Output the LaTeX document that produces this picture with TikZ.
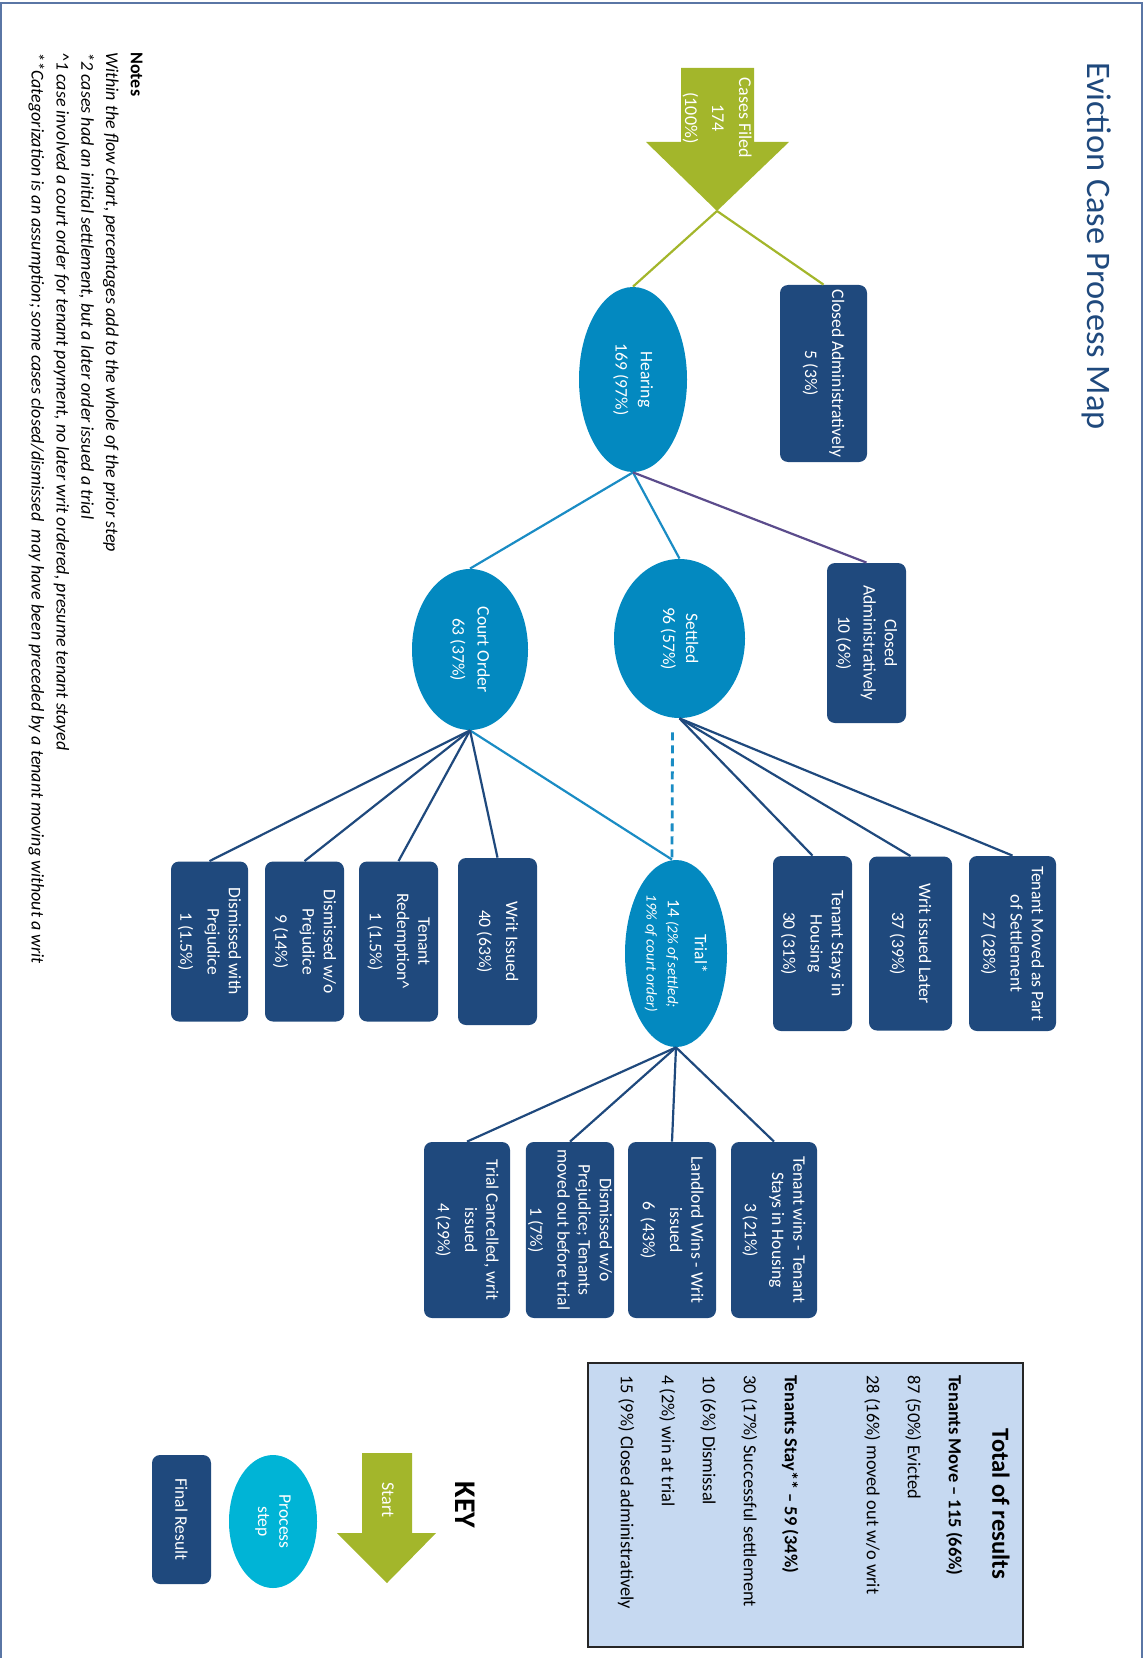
\documentclass[tikz,border=0pt]{standalone}
\usepackage{fontspec}
\setmainfont{Carlito}
\usetikzlibrary{positioning,shapes.geometric}
\definecolor{navy}{RGB}{31,73,125}
\definecolor{procblue}{RGB}{3,137,192}
\definecolor{keycyan}{RGB}{0,180,214}
\definecolor{startgreen}{RGB}{163,182,43}
\definecolor{lineblue}{RGB}{26,140,196}
\definecolor{purpleline}{RGB}{91,76,140}
\definecolor{totfill}{RGB}{198,217,241}
\definecolor{framecol}{RGB}{90,118,165}
\newcommand{\trialit}{\fontsize{7.5}{9}\selectfont\itshape}
\tikzset{
  finalbox/.style={rectangle, rounded corners=4pt, fill=navy, text=white,
    align=center, inner sep=1pt, font=\fontsize{8.8}{10.6}\selectfont,
    minimum width=88pt, minimum height=43pt},
  procstep/.style={ellipse, fill=procblue, text=white, align=center,
    inner sep=0pt, font=\fontsize{8.8}{10.6}\selectfont},
  starttext/.style={text=white, align=center, inner sep=0pt,
    font=\fontsize{9}{13.5}\selectfont},
  gline/.style={draw=startgreen, line width=1.1pt},
  bline/.style={draw=lineblue, line width=1.1pt},
  pline/.style={draw=purpleline, line width=1.1pt},
  nline/.style={draw=navy, line width=1.1pt},
  dline/.style={draw=lineblue, line width=1.4pt, dash pattern=on 4pt off 2.5pt}
}

\begin{document}
\begin{tikzpicture}[x=0.5pt, y=0.5pt]
\begin{scope}[rotate=-90, transform shape]
\useasboundingbox (0,0) rectangle (1658,1144);
\draw[framecol, line width=0.8pt] (1658,1) -- (3,1) -- (3,1142) -- (1658,1142);

\node[text=navy, inner sep=0pt, font=\fontsize{17.2}{20}\selectfont] (maptitle) at (246,1097) {Eviction Case Process Map};

% start
\fill[startgreen] (68,681) -- (142,681) -- (142,646) -- (211,717) -- (142,789) -- (142,754) -- (68,754) -- cycle;
\coordinate (filedtip) at (211,717);
\node[starttext] (filed) at (118,717) {Cases Filed\\174\\(100\%)};

% hearing level
\node[procstep, minimum width=92.5pt, minimum height=54pt] (hearing) at (379.5,633) {Hearing\\[2pt]169 (97\%)};
\node[finalbox, minimum width=88.5pt, minimum height=43.5pt] (cadm1) at (373.5,823.5) {Closed Administratively\\[3pt]5 (3\%)};

\node[procstep, minimum width=79.5pt, minimum height=65.5pt] (settled) at (638.5,679.5) {Settled\\[1pt]96 (57\%)};
\node[procstep, minimum width=80.5pt, minimum height=58pt] (court) at (649.5,470) {Court Order\\[2pt]63 (37\%)};
\node[finalbox, minimum width=80pt, minimum height=39.5pt] (cadm2) at (643,866.5) {Closed\\Administratively\\[2pt]10 (6\%)};

% settled results
\node[finalbox, minimum width=87.5pt, minimum height=43.5pt] (moved) at (943.5,1012.5) {Tenant Moved as Part\\of Settlement\\[3pt]27 (28\%)};
\node[finalbox, on grid, below=51pt of moved, minimum width=87pt, minimum height=41.5pt] (writlater) {Writ issued Later\\[3pt]37 (39\%)};
\node[finalbox, on grid, below=49pt of writlater, minimum width=87.5pt, minimum height=39.5pt] (stays) {Tenant Stays in\\Housing\\[3pt]30 (31\%)};

% court order results
\node[finalbox, minimum width=83.5pt, minimum height=39.5pt] (writ) at (941.5,497.5) {Writ Issued\\[3pt]40 (63\%)};
\node[finalbox, on grid, below=49.5pt of writ, minimum width=80pt, minimum height=39.5pt] (redemp) {Tenant\\Redemption\textasciicircum\\[3pt]1 (1.5\%)};
\node[finalbox, on grid, below=47pt of redemp, minimum width=80pt, minimum height=39.5pt] (dwo) {Dismissed w/o\\Prejudice\\[3pt]9 (14\%)};
\node[finalbox, on grid, below=47.5pt of dwo, minimum width=80pt, minimum height=38.5pt] (dwith) {Dismissed with\\Prejudice\\[3pt]1 (1.5\%)};

% trial
\node[procstep, minimum width=93.5pt, minimum height=51pt] (trial) at (953.5,676) {Trial*\\[3pt]14 {\trialit (2\% of settled;}\\{\trialit 19\% of court order)}};
\node[finalbox, minimum height=43pt] (twins) at (1230,774) {Tenant wins - Tenant\\Stays in Housing\\[3pt]3 (21\%)};
\node[finalbox, on grid, below=51pt of twins, minimum height=44pt] (lwins) {Landlord Wins - Writ\\issued\\[3pt]6\ \ (43\%)};
\node[finalbox, on grid, below=51pt of lwins, minimum height=43.5pt] (dprej) {Dismissed w/o\\Prejudice; Tenants\\moved out before trial\\[3pt]1 (7\%)};
\node[finalbox, on grid, below=51.5pt of dprej] (tcanc) {Trial Cancelled, writ\\issued\\[3pt]4 (29\%)};

% connectors
\draw[gline] (filedtip) -- (hearing.west);
\draw[gline] (filedtip) -- (cadm1.west);
\draw[bline] (hearing.east) -- (court.west);
\draw[bline] (hearing.east) -- (settled.west);
\draw[pline] (hearing.east) -- (cadm2.west);
\foreach \n in {moved,writlater,stays}
  \draw[nline] (settled.east) -- (\n.west);
\draw[dline] ([xshift=7pt,yshift=-3.5pt]settled.east) -- ([yshift=-2pt]trial.west);
\draw[bline] (court.east) -- ([yshift=-2pt]trial.west);
\foreach \n in {writ,redemp,dwo,dwith}
  \draw[nline] (court.east) -- (\n.west);
\foreach \n in {twins,lwins,dprej,tcanc}
  \draw[nline] (trial.east) -- (\n.west);

% totals
\node[draw=black!85, line width=0.8pt, fill=totfill, minimum width=142pt, minimum height=217.5pt] (totals) at (1505,805.5) {};
\node[inner sep=0pt, font=\fontsize{12.3}{14}\selectfont\bfseries] (tothead) at (1504,1001) {Total of results};
\node[anchor=north west, inner sep=0pt, align=left, font=\fontsize{9.2}{20.5}\selectfont] (totlist) at (1375,963)
  {\textbf{Tenants Move -- 115 (66\%)}\\87 (50\%) Evicted\\28 (16\%) moved out w/o writ\\[20.5pt]
   \textbf{Tenants Stay** -- 59 (34\%)}\\30 (17\%) Successful settlement\\10 (6\%) Dismissal\\
   4 (2\%) win at trial\\15 (9\%) Closed administratively};

% key
\node[inner sep=0pt, font=\fontsize{15}{18}\selectfont\bfseries] (key) at (1505,465) {KEY};
\fill[startgreen] (1453,362) -- (1533,362) -- (1533,337) -- (1583,387) -- (1533,436) -- (1533,412) -- (1453,412) -- cycle;
\node[starttext] (keystart) at (1500,388) {Start};
\node[procstep, fill=keycyan, minimum width=66.5pt, minimum height=44pt] (keystep) at (1521.5,273) {Process\\step};
\node[finalbox, minimum width=64.5pt, minimum height=29.5pt] (keyresult) at (1519.5,181.5) {Final Result};

% notes
\node[anchor=north west, inner sep=0pt, align=left, font=\fontsize{9}{12.4}\selectfont\itshape] (notetext) at (52,143)
  {\textbf{\upshape Notes}\\
   Within the flow chart, percentages add to the whole of the prior step\\
   *2 cases had an initial settlement, but a later order issued a trial\\
   \textasciicircum1 case involved a court order for tenant payment, no later writ ordered, presume tenant stayed\\
   **Categorization is an assumption; some cases closed/dismissed\ \ may have been preceded by a tenant moving without a writ};
\end{scope}
\end{tikzpicture}
\end{document}
